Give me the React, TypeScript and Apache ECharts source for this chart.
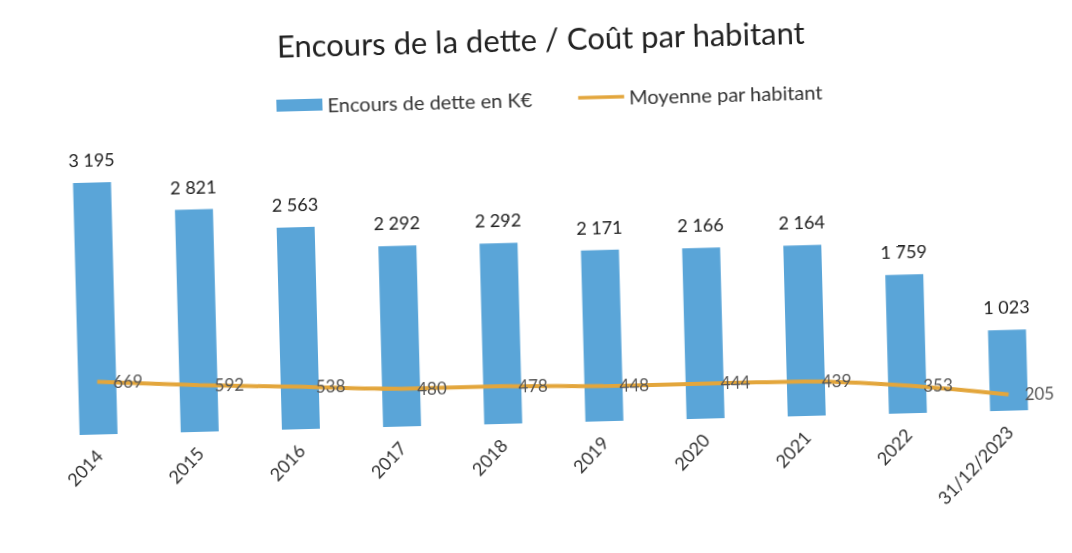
import React, { useEffect, useRef } from "react";
import * as echarts from "echarts";

const categories = ["2014", "2015", "2016", "2017", "2018", "2019", "2020", "2021", "2022", "31/12/2023"];
const encoursDette = [3195, 2821, 2563, 2292, 2292, 2171, 2166, 2164, 1759, 1023];
const moyenneHabitant = [669, 592, 538, 480, 478, 448, 444, 439, 353, 205];

const fmt = (v: number) => String(v).replace(/\B(?=(\d{3})+(?!\d))/g, " ");

export default function App() {
  const ref = useRef<HTMLDivElement>(null);
  useEffect(() => {
    if (!ref.current) return;
    const chart = echarts.init(ref.current, undefined, { renderer: "svg" });
    chart.setOption({
      animation: false,
      backgroundColor: "#ffffff",
      textStyle: { fontFamily: "Lato, 'Open Sans', sans-serif" },
      title: {
        text: "Encours de la dette / Coût par habitant",
        left: 278,
        top: 18,
        textStyle: { fontSize: 31, fontWeight: "normal", color: "#222", fontFamily: "Lato, sans-serif" },
      },
      legend: {
        top: 84,
        left: 276,
        itemGap: 46,
        itemWidth: 46,
        itemHeight: 12,
        textStyle: { fontSize: 20, color: "#333" },
        data: [
          { name: "Encours de dette en K€", icon: "rect" },
          { name: "Moyenne par habitant", icon: "path://M0,0 L50,0 L50,4 L0,4 Z" },
        ],
      },
      grid: { left: 44, right: 16, top: 147, bottom: 130, containLabel: false },
      xAxis: {
        type: "category",
        data: categories,
        axisLine: { show: false },
        axisTick: { show: false },
        axisLabel: { rotate: 45, fontSize: 18, color: "#333", margin: 18, interval: 0 },
      },
      yAxis: {
        type: "value",
        min: 0,
        max: 3500,
        show: false,
        splitLine: { show: false },
      },
      series: [
        {
          name: "Encours de dette en K€",
          type: "bar",
          data: encoursDette,
          barWidth: 38,
          itemStyle: { color: "#5aa5d8" },
          label: {
            show: true,
            position: "top",
            distance: 14,
            fontSize: 18,
            color: "#222",
            formatter: (p: any) => fmt(p.value),
          },
        },
        {
          name: "Moyenne par habitant",
          type: "line",
          data: moyenneHabitant,
          smooth: 0.3,
          symbol: "circle",
          symbolSize: 0,
          showSymbol: true,
          lineStyle: { color: "#e3a63c", width: 4 },
          itemStyle: { color: "#e3a63c" },
          label: {
            show: true,
            position: "right",
            distance: 16,
            fontSize: 17,
            color: "#555",
            formatter: (p: any) => fmt(p.value),
          },
        },
      ],
    });
    return () => chart.dispose();
  }, []);
  return (
    <div
      ref={ref}
      style={{
        position: "fixed",
        left: 0,
        top: 0,
        width: 1072,
        height: 553,
        background: "#fff",
        transform: "rotate(-1.5deg)",
      }}
    />
  );
}
